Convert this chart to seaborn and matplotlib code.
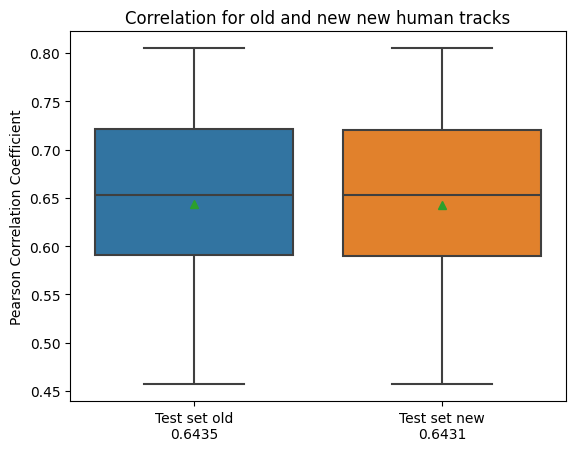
import numpy as np
import pandas as pd
import matplotlib
matplotlib.use("Agg")
import matplotlib.pyplot as plt
import seaborn as sns

categories = ["Test set old", "Test set new"]
mean_labels = ["0.6435", "0.6431"]
old_values = [0.457, 0.52, 0.591, 0.62, 0.6535, 0.68, 0.721, 0.744, 0.805]
new_values = [0.457, 0.52, 0.5895, 0.62, 0.6535, 0.68, 0.720, 0.7429, 0.805]

df = pd.DataFrame({
    "set": [categories[0]] * len(old_values) + [categories[1]] * len(new_values),
    "corr": old_values + new_values,
})

fig, ax = plt.subplots(figsize=(6.4, 4.8), dpi=100)
sns.boxplot(data=df, x="set", y="corr", hue="set", palette=["#1f77b4", "#ff7f0e"],
            saturation=0.75, showmeans=True, linecolor="#3f3f3f", linewidth=1.5,
            legend=False, ax=ax)
ax.set_xticks(range(len(categories)))
ax.set_xticklabels([f"{c}\n{m}" for c, m in zip(categories, mean_labels)])
ax.set_xlabel("")
ax.set_ylabel("Pearson Correlation Coefficient")
ax.set_title("Correlation for old and new new human tracks")
fig.savefig("out.png", dpi=100, bbox_inches="tight")
